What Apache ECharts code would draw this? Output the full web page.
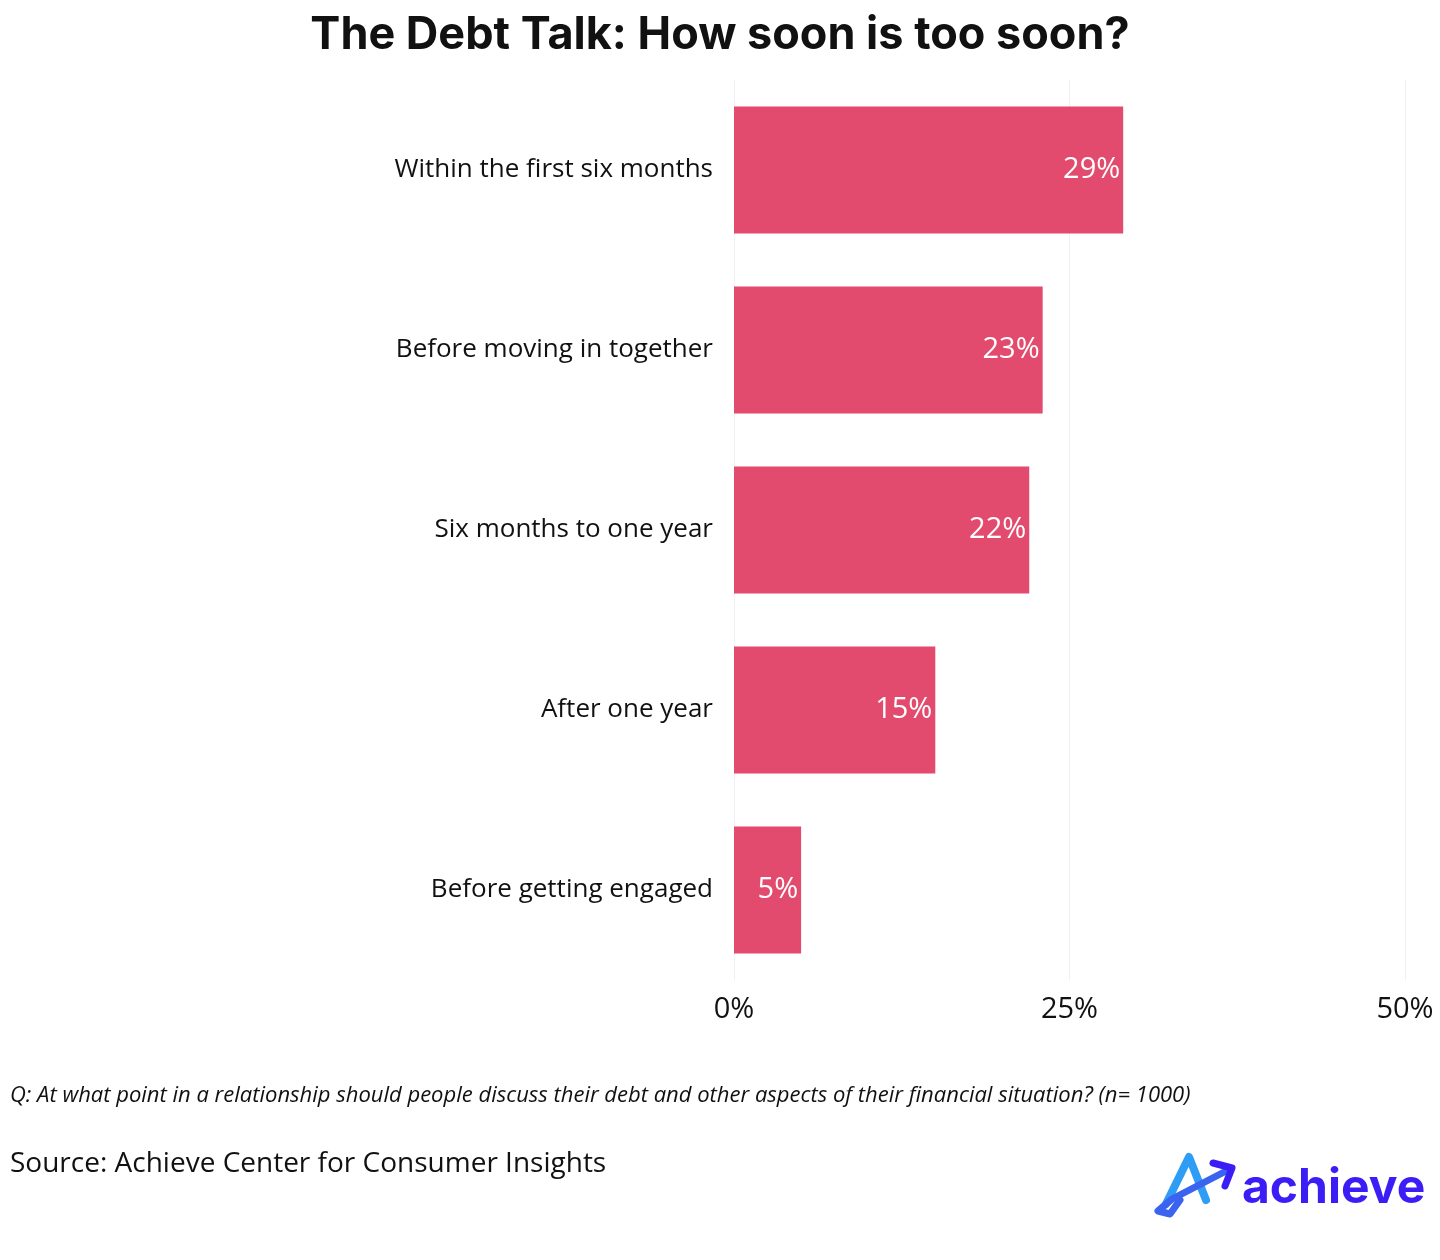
<!DOCTYPE html>
<html>
<head>
<meta charset="utf-8">
<script src="https://cdn.jsdelivr.net/npm/echarts@6/dist/echarts.min.js"></script>
<style>
  html, body { margin: 0; padding: 0; background: #fff; }
  #main { width: 1440px; height: 1260px; }
</style>
</head>
<body>
<div id="main"></div>
<script>
// answers, top to bottom
var categories = [
  "Within the first six months",
  "Before moving in together",
  "Six months to one year",
  "After one year",
  "Before getting engaged"
];
var shares = [29, 23, 22, 15, 5]; // percent
var xTicks = [0, 25, 50];

var font = "'Open Sans', 'Noto Sans', sans-serif";
var myChart = echarts.init(document.getElementById("main"));

myChart.setOption({
  backgroundColor: "#fff",
  title: {
    text: "The Debt Talk: How soon is too soon?",
    left: "center",
    top: 8,
    textStyle: { fontFamily: "Inter, Lato, sans-serif", fontWeight: "bold", fontSize: 45, color: "#111" }
  },
  grid: { left: 734, right: 35, top: 80, bottom: 280, containLabel: false },
  xAxis: {
    type: "value",
    min: xTicks[0],
    max: xTicks[xTicks.length - 1],
    interval: 25,
    axisLine: { show: false },
    axisTick: { show: false },
    splitLine: { show: true, lineStyle: { color: "#f0f0f0", width: 1 } },
    axisLabel: {
      formatter: "{value}%",
      fontFamily: font, fontSize: 29, color: "#111", margin: 15
    }
  },
  yAxis: {
    type: "category",
    inverse: true,
    data: categories,
    axisLine: { show: false },
    axisTick: { show: false },
    splitLine: { show: false },
    axisLabel: { fontFamily: font, fontSize: 26, color: "#111", margin: 21 }
  },
  series: [{
    type: "bar",
    data: shares,
    barCategoryGap: "29.5%",
    itemStyle: { color: "#E24B6E" },
    label: {
      show: true,
      position: "insideRight",
      distance: 3,
      formatter: "{c}%",
      fontFamily: font, fontSize: 29, color: "#fff"
    }
  }],
  graphic: [
    {
      type: "text", left: 10, top: 1085,
      style: {
        text: "Q: At what point in a relationship should people discuss their debt and other aspects of their financial situation? (n= 1000)",
        font: "italic 22px " + font, fill: "#111"
      }
    },
    {
      type: "text", left: 10, top: 1150,
      style: { text: "Source: Achieve Center for Consumer Insights", font: "28px " + font, fill: "#111" }
    },
    // logo: A mark with arrow
    {
      type: "polyline",
      shape: { points: [[1166, 1204], [1189, 1157], [1206, 1200]] },
      style: { stroke: "#2F9DF6", lineWidth: 8, lineCap: "round", lineJoin: "round", fill: null }
    },
    {
      type: "polyline",
      shape: { points: [[1230, 1169], [1172, 1199], [1158, 1211], [1170, 1214], [1180, 1200]] },
      style: { stroke: "#3A63F0", lineWidth: 7, lineCap: "round", lineJoin: "round", fill: null }
    },
    {
      type: "polyline",
      shape: { points: [[1213, 1163], [1232, 1168], [1225, 1186]] },
      style: { stroke: "#3B1EF5", lineWidth: 7, lineCap: "round", lineJoin: "round", fill: null }
    },
    {
      type: "text", left: 1242, top: 1165,
      style: { text: "achieve", font: "bold 48px Inter, Lato, sans-serif", fill: "#3B1EF5" }
    }
  ]
});

window.addEventListener("resize", function () {
  myChart.resize();
});
</script>
</body>
</html>
